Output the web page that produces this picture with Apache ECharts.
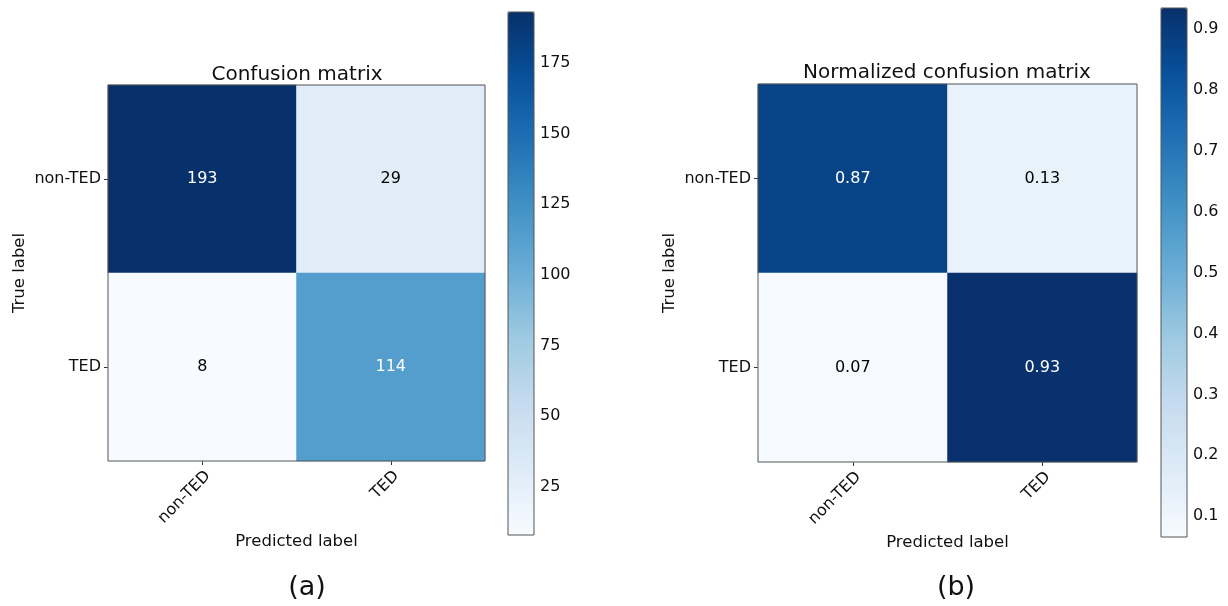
<!DOCTYPE html>
<html>
<head>
<meta charset="utf-8">
<script src="https://cdn.jsdelivr.net/npm/echarts@6/dist/echarts.min.js"></script>
<style>
  html, body { margin: 0; padding: 0; background: #fff; }
  #chart { width: 1228px; height: 606px; }
</style>
</head>
<body>
<div id="chart"></div>
<script>
// Class names shared by both matrices
const classes = ['non-TED', 'TED'];

// Raw counts, rows = true label, columns = predicted label
const countsRow0 = [193, 29];
const countsRow1 = [8, 114];

// Row-normalized rates
const normRow0 = [0.87, 0.13];
const normRow1 = [0.07, 0.93];

// Colour-bar extents and tick labels
const countsRange = [8, 193];
const normRange = [0.066, 0.934];
const countsTicks = [25, 50, 75, 100, 125, 150, 175];
const normTicks = [0.1, 0.2, 0.3, 0.4, 0.5, 0.6, 0.7, 0.8, 0.9];

// matplotlib "Blues" colormap stops
const blues = ['#f7fbff', '#deebf7', '#c6dbef', '#9ecae1', '#6baed6',
               '#4292c6', '#2171b5', '#08519c', '#08306b'];

const FONT = 'DejaVu Sans';

function cells(rows, range, fmt) {
  const thresh = range[1] / 2;
  const out = [];
  rows.forEach((row, y) => {
    row.forEach((v, x) => {
      out.push({
        value: [x, y, v],
        label: { color: v > thresh ? '#ffffff' : '#000000', formatter: () => fmt(v) }
      });
    });
  });
  return out;
}

const countsData = cells([countsRow0, countsRow1], countsRange, v => String(v));
const normData = cells([normRow0, normRow1], normRange, v => v.toFixed(2));

const grids = [
  { left: 108, top: 85, width: 377, height: 376 },
  { left: 758, top: 84, width: 379, height: 378 },
  { left: 508, top: 12, width: 26, height: 523 },
  { left: 1161, top: 8, width: 26, height: 529 }
];

function matrixAxes(gi) {
  const common = {
    type: 'category',
    data: classes,
    gridIndex: gi,
    axisLine: { show: false },
    axisTick: { show: true, alignWithLabel: true, length: 4, lineStyle: { color: '#333' } },
    splitLine: { show: false },
    nameTextStyle: { fontFamily: FONT, fontSize: 16.5, color: '#111' }
  };
  return {
    x: Object.assign({}, common, {
      position: 'bottom',
      name: 'Predicted label',
      nameLocation: 'middle',
      nameGap: 72,
      axisLabel: { rotate: 45, verticalAlign: 'top', fontFamily: FONT, fontSize: 16, color: '#111', margin: 7 }
    }),
    y: Object.assign({}, common, {
      inverse: true,
      name: 'True label',
      nameLocation: 'middle',
      nameGap: 80,
      nameRotate: 90,
      axisLabel: { fontFamily: FONT, fontSize: 16, color: '#111', margin: 7 }
    })
  };
}

function barAxes(gi, range, ticks) {
  return {
    x: { type: 'value', gridIndex: gi, show: false, min: 0, max: 1 },
    y: {
      type: 'value', gridIndex: gi, position: 'right',
      min: range[0], max: range[1],
      axisLine: { show: false },
      splitLine: { show: false },
      axisTick: { show: true, length: 4, lineStyle: { color: '#333' }, customValues: ticks },
      axisLabel: { fontFamily: FONT, fontSize: 16, color: '#111', margin: 6, customValues: ticks }
    }
  };
}

const a0 = matrixAxes(0), a1 = matrixAxes(1);
const b0 = barAxes(2, countsRange, countsTicks), b1 = barAxes(3, normRange, normTicks);

const option = {
  backgroundColor: '#ffffff',
  animation: false,
  title: [
    { text: 'Confusion matrix', left: 292, top: 60, textAlign: 'center',
      textStyle: { fontFamily: FONT, fontSize: 20, fontWeight: 'normal', color: '#111' } },
    { text: 'Normalized confusion matrix', left: 942, top: 58, textAlign: 'center',
      textStyle: { fontFamily: FONT, fontSize: 20, fontWeight: 'normal', color: '#111' } },
    { text: '(a)', left: 302, top: 569, textAlign: 'center',
      textStyle: { fontFamily: FONT, fontSize: 27, fontWeight: 'normal', color: '#111' } },
    { text: '(b)', left: 951, top: 569, textAlign: 'center',
      textStyle: { fontFamily: FONT, fontSize: 27, fontWeight: 'normal', color: '#111' } }
  ],
  grid: grids.map(g => Object.assign({
    show: true, z: 10, backgroundColor: 'transparent',
    borderColor: '#555', borderWidth: 1, containLabel: false
  }, g)),
  xAxis: [a0.x, a1.x, b0.x, b1.x],
  yAxis: [a0.y, a1.y, b0.y, b1.y],
  visualMap: [
    {
      type: 'continuous', seriesIndex: 0, dimension: 2,
      min: countsRange[0], max: countsRange[1],
      inRange: { color: blues },
      calculable: false, hoverLink: false, text: null, showLabel: false,
      orient: 'vertical', left: grids[2].left, top: grids[2].top, padding: 0,
      itemWidth: grids[2].width, itemHeight: grids[2].height
    },
    {
      type: 'continuous', seriesIndex: 1, dimension: 2,
      min: normRange[0], max: normRange[1],
      inRange: { color: blues },
      calculable: false, hoverLink: false, text: null, showLabel: false,
      orient: 'vertical', left: grids[3].left, top: grids[3].top, padding: 0,
      itemWidth: grids[3].width, itemHeight: grids[3].height
    }
  ],
  series: [
    {
      type: 'heatmap', xAxisIndex: 0, yAxisIndex: 0, data: countsData,
      label: { show: true, fontFamily: FONT, fontSize: 16 },
      itemStyle: { borderWidth: 0 },
      emphasis: { disabled: true }
    },
    {
      type: 'heatmap', xAxisIndex: 1, yAxisIndex: 1, data: normData,
      label: { show: true, fontFamily: FONT, fontSize: 16 },
      itemStyle: { borderWidth: 0 },
      emphasis: { disabled: true }
    }
  ]
};

const chart = echarts.init(document.getElementById('chart'), null, { renderer: 'canvas' });
chart.setOption(option);
</script>
</body>
</html>
